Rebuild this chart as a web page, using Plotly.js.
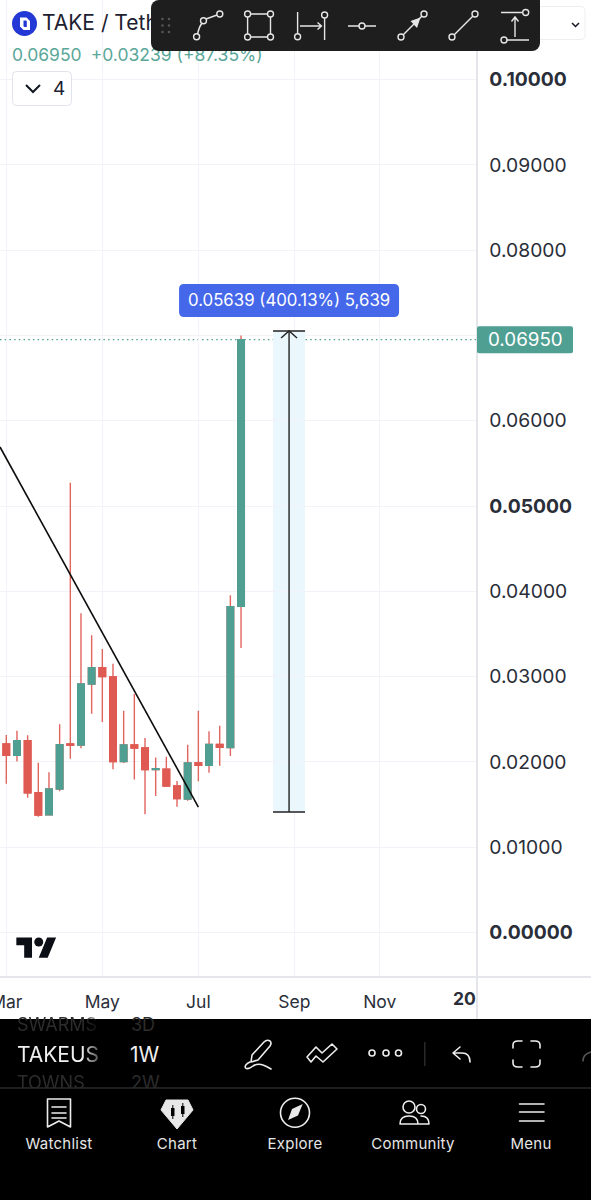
<!DOCTYPE html>
<html><head><meta charset="utf-8">
<script src="https://cdn.plot.ly/plotly-3.0.1.min.js"></script>
<style>
html,body{margin:0;padding:0;background:#fff;width:591px;height:1200px;overflow:hidden;font-family:Inter,"Noto Sans",sans-serif}
#chart{position:absolute;left:0;top:0;width:591px;height:1200px}
.a{position:absolute;white-space:nowrap}
svg.a{overflow:visible}
.nav{top:1135px;width:118px;text-align:center;font-size:15px;line-height:18px;font-weight:400;letter-spacing:.25px;color:#e6e6e6}
.dim{font-size:18px;line-height:22px;color:#2c2c2c}
</style></head><body>
<div id="chart"></div>

<!-- header -->
<svg class="a" style="left:0;top:0" width="591" height="120">
 <circle cx="24.5" cy="23.5" r="12.5" fill="#2438d6"/>
 <path d="M20 17.5h6.5l3.5 3.5v9h-6.5l-3.5-3.5z" fill="#fff"/><path d="M23.5 20.5h2.5l.8.8v5.7h-2.5l-.8-.8z" fill="#2438d6"/>
 <rect x="12.5" y="71.5" width="59" height="34" rx="4" fill="#fff" stroke="#e0e3eb"/>
 <path d="M26 85l7 7 7-7" fill="none" stroke="#131722" stroke-width="2"/>
 <rect x="520" y="6.5" width="65" height="33" rx="4" fill="#fff" stroke="#eceef2"/>
 <path d="M572 23l3.5 3.5 3.5-3.5" fill="none" stroke="#131722" stroke-width="1.5"/>
</svg>
<div class="a" style="left:42px;top:10px;font-size:21px;line-height:26px;color:#1c2030">TAKE / Tether</div>
<div class="a" style="left:12px;top:44px;font-size:17.5px;line-height:21px;color:#5aa799">0.06950<span style="margin-left:9px">+0.03239 (+87.35%)</span></div>
<div class="a" style="left:53px;top:78px;font-size:19px;line-height:22px;color:#1c2030">4</div>

<!-- drawing toolbar -->
<svg class="a" style="left:0;top:0" width="591" height="60">
 <path d="M159 0H540V43a8 8 0 0 1-8 8H159a8 8 0 0 1-8-8V8a8 8 0 0 1 8-8z" fill="#1e1e1e"/>
 <g fill="#555"><circle cx="162.5" cy="19" r="1.3"/><circle cx="169" cy="19" r="1.3"/><circle cx="162.5" cy="25.5" r="1.3"/><circle cx="169" cy="25.5" r="1.3"/><circle cx="162.5" cy="32" r="1.3"/><circle cx="169" cy="32" r="1.3"/></g>
 <g fill="none" stroke="#e6e6e6" stroke-width="1.4">
  <path d="M197.5 34Q199 27 202 23M206 19L217 15"/><circle cx="196.6" cy="36.7" r="3"/><circle cx="203.5" cy="20.7" r="3"/><circle cx="219.8" cy="14" r="3"/>
  <path d="M250.5 14H267.5M250.5 37H267.5M247.6 17V34M270.5 17V34"/><circle cx="247.6" cy="14" r="3"/><circle cx="270.5" cy="14" r="3"/><circle cx="247.6" cy="37" r="3"/><circle cx="270.5" cy="37" r="3"/>
  <path d="M297.6 12V33.5M324.6 18V40M300 26H321M317.5 22.5L321.5 26L317.5 29.5"/><circle cx="297.6" cy="36.7" r="3"/><circle cx="324.6" cy="15" r="3"/>
  <path d="M348 26H359M365 26H376"/><circle cx="362" cy="26" r="3"/>
  <path d="M403 35L422 16"/><circle cx="401" cy="37" r="3"/><circle cx="424" cy="14" r="3"/>
  <path d="M454 35L473 16"/><circle cx="452" cy="37" r="3"/><circle cx="475" cy="14" r="3"/>
  <path d="M501 12.5H522.5M507 40H529M515 37V18M511.5 21.5L515 17L518.5 21.5"/><circle cx="525.7" cy="12.5" r="3"/><circle cx="504" cy="40" r="3"/>
 </g>
 <path d="M420.5 17.5L410.5 21L417 28z" fill="#e6e6e6"/>
</svg>

<!-- TradingView mark -->
<svg class="a" style="left:16px;top:933px" width="41" height="28" viewBox="0 0 36 25"><path d="M14 22H7V11H0V4h14v18zM28 22h-8l7.5-18h8L28 22z" fill="#0b0e14"/><circle cx="20" cy="8" r="4" fill="#0b0e14"/></svg>

<!-- axis edges -->
<div class="a" style="left:476px;top:976px;width:1.5px;height:43px;background:#e4e6ec"></div>
<div class="a" style="left:0;top:976px;width:591px;height:1.5px;background:#e4e6ec"></div>

<!-- bottom app bar -->
<div class="a" style="left:0;top:1019px;width:591px;height:181px;background:#000"></div>
<div class="a dim" style="left:17px;top:1014px;width:88px;overflow:hidden;-webkit-mask-image:linear-gradient(90deg,#000 75%,transparent)">SWARMS</div>
<div class="a dim" style="left:131px;top:1014px">3D</div>
<div class="a" style="left:17px;top:1042px;width:90px;overflow:hidden;font-size:21px;line-height:26px;color:#f0f0f0;-webkit-mask-image:linear-gradient(90deg,#000 72%,transparent)">TAKEUS</div>
<div class="a" style="left:130px;top:1042px;font-size:21px;line-height:26px;color:#f0f0f0">1W</div>
<div class="a dim" style="left:17px;top:1072px;width:88px;height:16px;overflow:hidden;-webkit-mask-image:linear-gradient(90deg,#000 75%,transparent)">TOWNS</div>
<div class="a dim" style="left:131px;top:1072px;height:16px;overflow:hidden">2W</div>
<svg class="a" style="left:0;top:1019px" width="591" height="181">
 <path d="M0 69H591" stroke="#2a2a2a" stroke-width="1.5"/>
 <path d="M424.8 23V47" stroke="#2a2a2a" stroke-width="1.5"/>
 <g fill="none" stroke="#ededed" stroke-width="1.6" stroke-linecap="round" stroke-linejoin="round">
  <path d="M252 36L264 23Q267 20 270 22Q272 24 270 27L258 41L251 43z"/>
  <path d="M250 43Q244 46 245.5 49Q248 51 253 47Q258 44 263 46Q266 47 271 50"/>
  <path d="M307 38L316 28L322 34L332 25L337 30L323 43L316 37L311 43z"/>
  <circle cx="372" cy="34" r="3"/><circle cx="386" cy="34" r="3"/><circle cx="398.5" cy="34" r="3"/>
  <path d="M460 28L453 34L460 40M453 34H462Q470 34 470 43"/>
  <path d="M513 29V26Q513 22 518 22H522M531 22H535Q540 22 540 26V29M513 41V44Q513 48 518 48H522M531 48H535Q540 48 540 44V41"/>
  <path d="M583 42Q583 35 591 33" stroke="#555"/>
  <path d="M47.5 80H70.5V108L59 102L47.5 108zM52 88H66M52 94H66M52 99H66"/>
  <circle cx="295" cy="93.7" r="14.5"/>
  <circle cx="409" cy="88" r="6"/><circle cx="421" cy="90" r="4.5"/>
  <path d="M400 105Q400 97 409 97Q418 97 418 105zM421 97Q429 97 429 105H419"/>
  <path d="M519.5 85H544M519.5 93H544M519.5 102H544"/>
 </g>
 <path d="M166 81H188L193 91L177 110L161 91Z" fill="#e8e8e8" stroke="#e8e8e8" stroke-linejoin="round" stroke-width="1"/>
 <g fill="#000"><rect x="171" y="89" width="3.5" height="8"/><rect x="181" y="87" width="3.5" height="8"/><rect x="172.3" y="86" width="1" height="14"/><rect x="182.3" y="84" width="1" height="14"/></g>
 <path d="M302.7 85L298 96.5L288 101L292 90z" fill="#e8e8e8"/>
</svg>
<div class="a nav" style="left:0">Watchlist</div>
<div class="a nav" style="left:118px">Chart</div>
<div class="a nav" style="left:236px">Explore</div>
<div class="a nav" style="left:354px">Community</div>
<div class="a nav" style="left:472px">Menu</div>

<script>
// Weekly candles
const weekIndex = [0,1,2,3,4,5,6,7,8,9,10,11,12,13,14,15,16,17,18,19,20,21,22];
const opens  = [.02210,.02077,.02249,.01639,.01381,.01682,.02210,.02198,.02913,.03105,.02995,.02003,.02198,.02163,.01909,.01913,.01717,.01565,.01987,.01960,.02206,.02167,.03824];
const highs  = [.02315,.02366,.02311,.01991,.01878,.02440,.05274,.03742,.03484,.03323,.03152,.02600,.02796,.02280,.02053,.02061,.01776,.02202,.02600,.02358,.02425,.03953,.07000];
const lows   = [.01745,.02006,.01581,.01358,.01381,.01655,.02038,.02159,.02565,.02468,.01913,.01987,.01795,.01385,.01600,.01710,.01475,.01545,.01772,.01874,.01956,.02069,.03335];
const closes = [.02077,.02249,.01639,.01377,.01682,.02202,.02194,.02913,.03105,.03000,.02003,.02198,.02163,.01909,.01921,.01717,.01569,.01987,.01960,.02206,.02171,.03820,.06950];

const trendX = [-0.59, 18];
const trendY = [0.05692, 0.01471];

const measureLeft = 25, measureRight = 28, measureMid = 26.5;
const measureLow = 0.01413, measureHigh = 0.07052;
const lastPrice = 0.06950;
const arrowX = [25.75, 26.5, 27.25];
const arrowY = [0.06970, 0.07052, 0.06970];

const yTicks = [0,.01,.02,.03,.04,.05,.06,.08,.09,.10];
const yTickText = ['<b>0.00000</b>','0.01000','0.02000','0.03000','0.04000','<b>0.05000</b>','0.06000','0.08000','0.09000','<b>0.10000</b>'];
const xTicks = [0,9,18,27,35];
const xTickText = ['Mar','May','Jul','Sep','Nov'];
const yearLabel = '20';
const yearX = 42.9;
const measureText = '0.05639 (400.13%) 5,639';

const green = '#4f9f92', red = '#df5a52', wick = '#e0655f', ink = '#2a2e39', grid = '#f1f3f8', edge = '#e4e6ec', font = 'Inter, "Noto Sans", sans-serif';

function rr(l, r, b, t, c){
  return `M${l+c} ${t}L${r-c} ${t}Q${r} ${t} ${r} ${t-c}L${r} ${b+c}Q${r} ${b} ${r-c} ${b}L${l+c} ${b}Q${l} ${b} ${l} ${b+c}L${l} ${t-c}Q${l} ${t} ${l+c} ${t}Z`;
}

const bodyTops = opens.map((o,i)=>Math.max(o,closes[i]));
const bodyBottoms = opens.map((o,i)=>Math.min(o,closes[i]));

const traces = [
 // all wicks are red in the reference, whatever the body colour
 {type:'candlestick', x:weekIndex, open:opens, high:highs, low:lows, close:closes,
  increasing:{line:{color:wick,width:1.4},fillcolor:wick},
  decreasing:{line:{color:wick,width:1.4},fillcolor:wick},
  whiskerwidth:0, hoverinfo:'skip', showlegend:false},
 {type:'candlestick', x:weekIndex, open:opens, high:bodyTops, low:bodyBottoms, close:closes,
  increasing:{line:{color:green,width:1.4},fillcolor:green},
  decreasing:{line:{color:red,width:1.4},fillcolor:red},
  whiskerwidth:0, hoverinfo:'skip', showlegend:false},
 {type:'scatter', mode:'lines', x:trendX, y:trendY, line:{color:'#0c0c0c',width:1.6}, hoverinfo:'skip', showlegend:false},
 {type:'scatter', mode:'lines', x:[measureMid,measureMid], y:[measureLow,measureHigh], line:{color:'#222',width:1.4}, hoverinfo:'skip', showlegend:false},
 {type:'scatter', mode:'lines', x:arrowX, y:arrowY, line:{color:'#222',width:1.4}, hoverinfo:'skip', showlegend:false},
 {type:'scatter', mode:'lines', x:[measureLeft,measureRight], y:[measureLow,measureLow], line:{color:'#222',width:1.4}, hoverinfo:'skip', showlegend:false},
 {type:'scatter', mode:'lines', x:[measureLeft,measureRight], y:[measureHigh,measureHigh], line:{color:'#222',width:1.4}, hoverinfo:'skip', showlegend:false}
];

const layout = {
 width:591, height:1200, paper_bgcolor:'rgba(0,0,0,0)', plot_bgcolor:'#fff',
 margin:{l:0,r:115,t:0,b:224,pad:0}, showlegend:false, boxmode:'overlay', boxgap:0.12,
 font:{family:font,color:ink},
 xaxis:{type:'linear', range:[-0.59,44.02], tickmode:'array', tickvals:xTicks, ticktext:xTickText,
   showgrid:true, gridcolor:grid, gridwidth:1, zeroline:false, showline:false,
   ticks:'outside', ticklen:10, tickcolor:'rgba(0,0,0,0)', tickfont:{size:17.5,color:ink,family:font},
   ticklabeloverflow:'allow', rangeslider:{visible:false}, fixedrange:true},
 yaxis:{side:'right', range:[-0.0051,0.10932], tickmode:'array', tickvals:yTicks, ticktext:yTickText,
   showgrid:true, gridcolor:grid, gridwidth:1, zeroline:false, showline:true, linecolor:edge, linewidth:1.5,
   ticks:'outside', ticklen:8, tickcolor:'rgba(0,0,0,0)', tickfont:{size:19.3,color:ink,family:font}, fixedrange:true},
 shapes:[
  {type:'rect', layer:'below', xref:'x', yref:'y', x0:measureLeft, x1:measureRight, y0:measureLow, y1:measureHigh, fillcolor:'#eaf7fd', line:{width:0}},
  {type:'line', layer:'below', xref:'paper', yref:'y', x0:0, x1:1, y0:0.07, y1:0.07, line:{color:grid,width:1}},
  {type:'line', layer:'below', xref:'paper', yref:'y', x0:0, x1:1, y0:lastPrice, y1:lastPrice, line:{color:green,width:1.3,dash:'1.5px,3.2px'}},
  {type:'path', xref:'x', yref:'y', xsizemode:'pixel', ysizemode:'pixel', xanchor:measureMid, yanchor:measureHigh, path:rr(-110,110,14,47,5), fillcolor:'#4567ea', line:{width:0}},
  {type:'path', xref:'paper', yref:'y', xsizemode:'pixel', ysizemode:'pixel', xanchor:1, yanchor:lastPrice, path:rr(1,97,-13.5,13.5,2), fillcolor:green, line:{width:0}}
 ],
 annotations:[
  {xref:'x', yref:'y', x:measureMid, y:measureHigh, yshift:30.5, text:measureText, showarrow:false, xanchor:'center', yanchor:'middle', font:{size:16.8,color:'#fff',family:font}},
  {xref:'paper', yref:'y', x:1, xshift:49, y:lastPrice, text:'0.06950', showarrow:false, xanchor:'center', yanchor:'middle', font:{size:18.8,color:'#fff',family:font}},
  {xref:'x', yref:'paper', x:yearX, y:0, yshift:-22, text:'<b>'+yearLabel+'</b>', showarrow:false, xanchor:'center', yanchor:'middle', font:{size:17.5,color:ink,family:font}}
 ]
};
Plotly.newPlot('chart', traces, layout, {displayModeBar:false, staticPlot:true, responsive:false});
</script>
</body></html>
